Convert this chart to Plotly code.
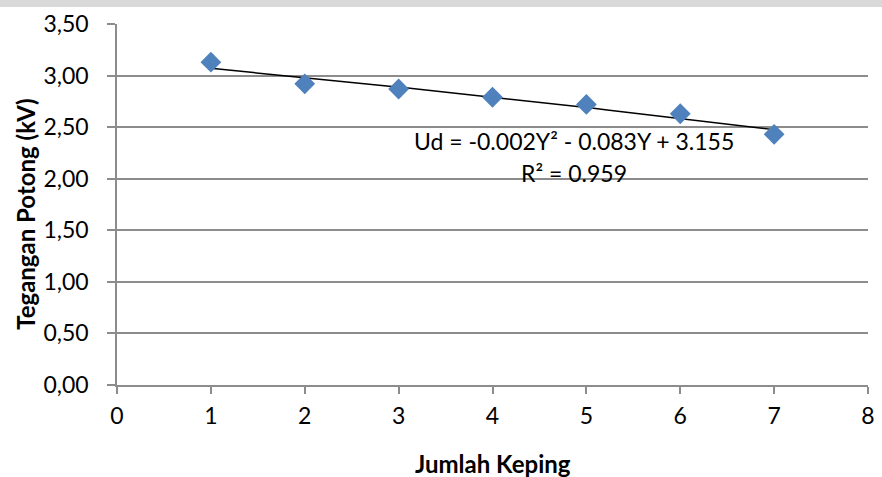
import numpy as np
import plotly.graph_objects as go

# Data
jumlah_keping = [1, 2, 3, 4, 5, 6, 7]
tegangan_potong = [3.13, 2.92, 2.87, 2.79, 2.72, 2.63, 2.43]

# Trendline coefficients (as displayed on the chart)
coef_a = -0.002
coef_b = -0.083
coef_c = 3.155
r_squared = 0.959

x_ticks = [0, 1, 2, 3, 4, 5, 6, 7, 8]
y_ticks = [0, 0.5, 1.0, 1.5, 2.0, 2.5, 3.0, 3.5]

x_title = "Jumlah Keping"
y_title = "Tegangan Potong (kV)"

FONT = "Lato"
TICK_SIZE = 23
TITLE_SIZE = 24

trend_x = np.linspace(min(jumlah_keping), max(jumlah_keping), 61)
trend_y = coef_a * trend_x**2 + coef_b * trend_x + coef_c

fig = go.Figure()
fig.add_trace(go.Scatter(
    x=trend_x, y=trend_y, mode="lines",
    line=dict(color="black", width=1.5),
    hoverinfo="skip", showlegend=False,
))
fig.add_trace(go.Scatter(
    x=jumlah_keping, y=tegangan_potong, mode="markers",
    marker=dict(symbol="diamond", size=16, color="#4F81BD",
                line=dict(width=0)),
    showlegend=False,
))

eq_text = "Ud = -0.002Y\u00b2 - 0.083Y + 3.155"
r2_text = "R\u00b2 = %.3f" % r_squared

fig.add_annotation(
    x=4.865, y=2.367, xref="x", yref="y",
    text=eq_text, showarrow=False,
    font=dict(family=FONT, size=TICK_SIZE, color="black"),
    xanchor="center", yanchor="middle",
)
fig.add_annotation(
    x=4.865, y=2.06, xref="x", yref="y",
    text=r2_text, showarrow=False,
    font=dict(family=FONT, size=TICK_SIZE, color="black"),
    xanchor="center", yanchor="middle",
)

# Axis titles
fig.add_annotation(
    x=(24 - 117) / 758, y=(385 - 214) / 361, xref="paper", yref="paper",
    text="<b>%s</b>" % y_title, textangle=-90, showarrow=False,
    font=dict(family=FONT, size=TITLE_SIZE, color="black"),
    xanchor="center", yanchor="middle",
)
fig.add_annotation(
    x=0.5, y=(385 - 463) / 361, xref="paper", yref="paper",
    text="<b>%s</b>" % x_title, showarrow=False,
    font=dict(family=FONT, size=TITLE_SIZE, color="black"),
    xanchor="center", yanchor="middle",
)

# Gray band at the very top (scan header)
fig.add_shape(
    type="rect", xref="paper", yref="paper",
    x0=-0.2, x1=1.2, y0=1.0 + 17 / 361, y1=1.2,
    fillcolor="#d9d9d9", line=dict(width=0), layer="below",
)

fig.update_layout(
    width=882, height=477,
    margin=dict(l=117, r=7, t=24, b=92),
    paper_bgcolor="white", plot_bgcolor="white",
    separators=",.",
    font=dict(family=FONT, size=TICK_SIZE, color="black"),
    xaxis=dict(
        range=[0, 8], tickvals=x_ticks, ticktext=[str(v) for v in x_ticks],
        showgrid=False, zeroline=False,
        showline=True, linecolor="#8c8c8c", linewidth=1.5,
        ticks="outside", ticklen=7, tickcolor="#8c8c8c", tickwidth=1.5,
        ticklabelstandoff=3,
        tickfont=dict(family=FONT, size=TICK_SIZE, color="black"),
    ),
    yaxis=dict(
        range=[0, 3.5], tickvals=y_ticks, tickformat=".2f",
        showgrid=True, gridcolor="#8c8c8c", gridwidth=1.5,
        zeroline=False,
        showline=True, linecolor="#8c8c8c", linewidth=1.5,
        ticks="outside", ticklen=8, tickcolor="#8c8c8c", tickwidth=1.5,
        ticklabelstandoff=14,
        tickfont=dict(family=FONT, size=TICK_SIZE, color="black"),
    ),
)

fig.write_html("out.html")
